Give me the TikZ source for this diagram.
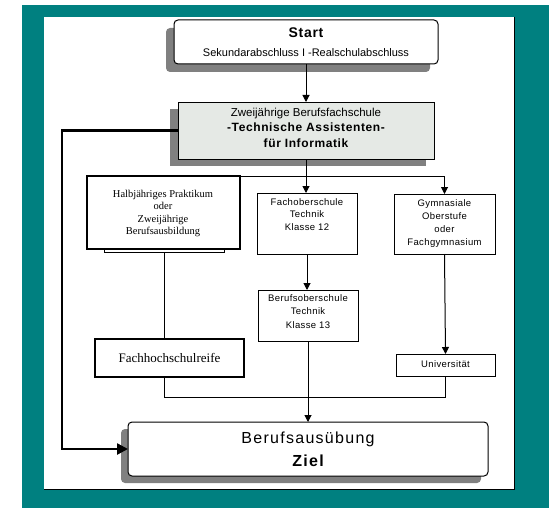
\documentclass[tikz,border=0pt]{standalone}
\usepackage{fontspec}
\setmainfont{Liberation Sans}
\newfontfamily\lsA[LetterSpace=4]{Liberation Sans}
\newfontfamily\lsB[LetterSpace=5]{Liberation Sans}
\newfontfamily\lsC[LetterSpace=8]{Liberation Sans}
\newfontfamily\serifA{Liberation Serif}
\usetikzlibrary{arrows.meta}
\definecolor{teal0}{RGB}{0,128,128}
\definecolor{shadowgray}{RGB}{128,128,128}
\definecolor{bfsfill}{RGB}{229,233,229}
\begin{document}
\begin{tikzpicture}[x=1pt,y=-1pt,
  every node/.style={inner sep=0pt, outer sep=0pt},
  box/.style={draw=black, line width=1pt, fill=white, rectangle},
  thickbox/.style={box, line width=2pt},
  shadowfill/.style={fill=shadowgray},
  conn/.style={draw=black, line width=1pt},
  arr/.style={conn, -{Triangle[length=7pt,width=7pt]}},
  bigarr/.style={draw=black, line width=2.5pt, -{Triangle[length=11pt,width=11pt]}},
  smalltxt/.style={anchor=base, font=\lsA\fontsize{9.5}{11}\selectfont},
  serftxt/.style={anchor=base, font=\serifA\fontsize{10.5}{12}\selectfont},
]
\useasboundingbox (0,0) rectangle (553,508);
\fill[white] (0,0) rectangle (553,508);
\fill[teal0] (22,5) rectangle (549,508);
\fill[white] (44,17) rectangle (514,489);
\draw[line width=1pt] (514.5,17) -- (514.5,489.5) -- (44,489.5);

% shadows
\fill[shadowfill, rounded corners=4pt] (166,28) rectangle (430,72);
\fill[shadowfill] (170,109) rectangle (426,166);
\fill[shadowfill, rounded corners=4pt] (121,429) rectangle (481,483);

% boxes
\node[box, rounded corners=4pt, minimum width=264pt, minimum height=44pt] (start) at (306,42) {};
\node[box, fill=bfsfill, minimum width=256pt, minimum height=57pt] (bfs) at (306,130.5) {};
\node[box, minimum width=120pt, minimum height=8pt] (halbbar) at (164,248) {};
\node[thickbox, minimum width=153pt, minimum height=73pt] (halb) at (163.5,212.5) {};
\node[box, minimum width=100pt, minimum height=61pt] (fos) at (307,223.5) {};
\node[box, minimum width=101pt, minimum height=60pt] (gym) at (444.5,224) {};
\node[box, minimum width=100pt, minimum height=51pt] (bos) at (308,315.5) {};
\node[thickbox, minimum width=149pt, minimum height=38pt] (fhr) at (169.5,358) {};
\node[box, minimum width=99pt, minimum height=22pt] (uni) at (445.5,365) {};
\node[box, rounded corners=4pt, minimum width=360pt, minimum height=54pt] (ziel) at (308,449) {};

% texts
\node[anchor=base, font=\lsB\fontsize{14}{16}\selectfont\bfseries] (t1) at (306,38) {Start};
\node[anchor=base, font=\fontsize{11}{13}\selectfont] (t2) at (306,57) {Sekundarabschluss I -Realschulabschluss};
\node[anchor=base, font=\fontsize{11.5}{13}\selectfont] (t3) at (306,116) {Zweijährige Berufsfachschule};
\node[anchor=base, font=\lsB\fontsize{12}{14}\selectfont\bfseries] (t4) at (306,131) {-Technische Assistenten-};
\node[anchor=base, font=\lsB\fontsize{12}{14}\selectfont\bfseries] (t5) at (306,147) {für Informatik};

\node[serftxt] (h1) at (163,197) {Halbjähriges Praktikum};
\node[serftxt] (h2) at (163,209.5) {oder};
\node[serftxt] (h3) at (163,222) {Zweijährige};
\node[serftxt] (h4) at (163,234.5) {Berufsausbildung};

\node[smalltxt] (f1) at (307,205) {Fachoberschule};
\node[smalltxt] (f2) at (307,217.5) {Technik};
\node[smalltxt] (f3) at (307,230) {Klasse 12};

\node[smalltxt] (g1) at (444.5,206) {Gymnasiale};
\node[smalltxt] (g2) at (444.5,219) {Oberstufe};
\node[smalltxt] (g3) at (444.5,232) {oder};
\node[smalltxt] (g4) at (444.5,245) {Fachgymnasium};

\node[smalltxt] (b1) at (308,301) {Berufsoberschule};
\node[smalltxt] (b2) at (308,314.5) {Technik};
\node[smalltxt] (b3) at (308,328) {Klasse 13};

\node[anchor=base, font=\serifA\fontsize{13}{15}\selectfont] (fh) at (169.5,362) {Fachhochschulreife};
\node[smalltxt] (u1) at (445.5,367) {Universität};

\node[anchor=base, font=\lsC\fontsize{16}{18}\selectfont] (z1) at (308,443) {Berufsausübung};
\node[anchor=base, font=\lsC\fontsize{16}{18}\selectfont\bfseries] (z2) at (308,466) {Ziel};

% connectors
\coordinate (fb) at (62,449);
\coordinate (j) at (308,397.5);
\draw[arr] (start.south) -- (start.south |- bfs.north);
\draw[arr] (bfs.south) -- (bfs.south |- fos.north);
\draw[arr] (halb.north east) -| (gym.north);
\draw[arr] (fos.south) -- (fos.south |- bos.north);
\draw[arr] (gym.south) -- (uni.north);
\draw[conn] (halbbar.south) -- (halbbar.south |- fhr.north);
\draw[conn] (halbbar.south |- fhr.south) |- (j) -| (uni.south);
\draw[arr] (bos.south) -- (ziel.north);
\draw[bigarr] (bfs.west) -| (fb) -- (ziel.west);
\end{tikzpicture}
\end{document}
